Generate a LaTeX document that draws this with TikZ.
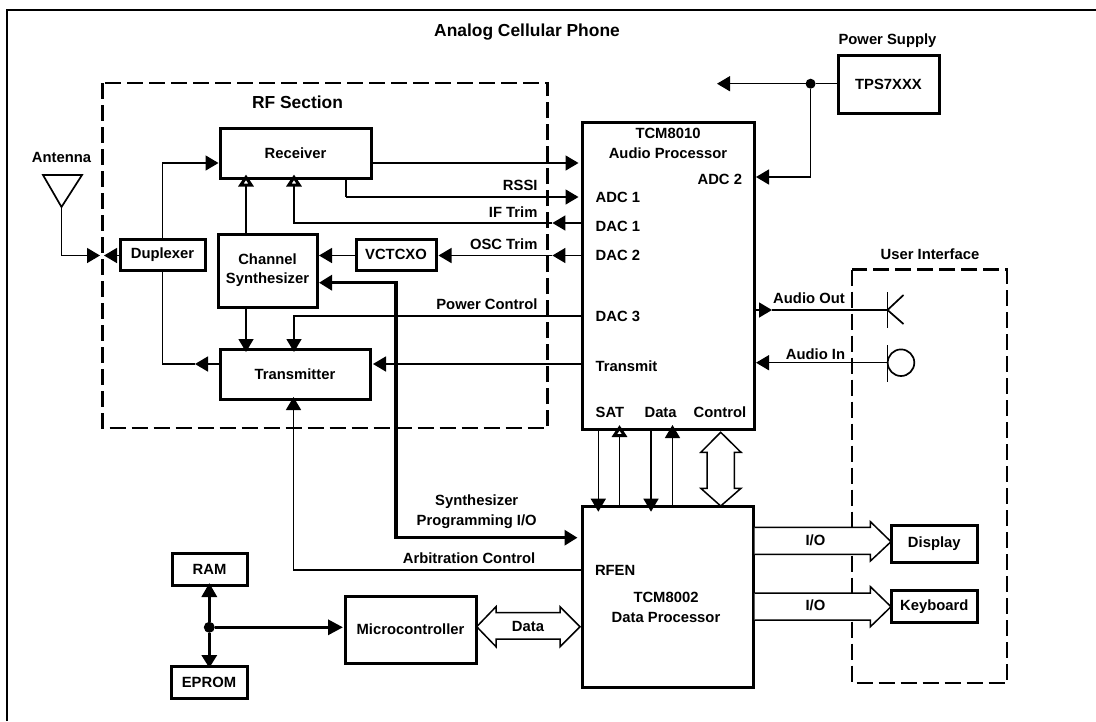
\documentclass[tikz,border=0pt]{standalone}
\usepackage{fontspec}
\setmainfont{Liberation Sans}
\usetikzlibrary{arrows.meta,calc}
\newcommand{\lbl}{\fontsize{14.8}{17}\selectfont\bfseries}
\newcommand{\lblbig}{\fontsize{17.4}{20}\selectfont\bfseries}
\tikzset{
  box/.style={draw=black,line width=3pt,fill=white,inner sep=0pt,outer sep=0pt,align=center,font=\lbl},
  lbl/.style={inner sep=0pt,outer sep=0pt,align=center,font=\lbl},
  wire/.style={line width=1.5pt,draw=black},
  arr/.style={wire,-{Triangle[length=13pt,width=15pt]}},
  harr/.style={wire,-{Triangle[length=12pt,width=15pt,fill=white,line width=3pt]}},
  heavy/.style={line width=3.2pt,draw=black,{Triangle[length=13pt,width=15pt]}-{Triangle[length=13pt,width=15pt]}},
  section/.style={draw=black,line width=2.2pt,dash pattern=on 16pt off 6pt},
  frame/.style={draw=black,line width=2.4pt},
  bus/.style={draw=black,line width=1.5pt,fill=white,line join=miter},
  dotn/.style={circle,fill=black,inner sep=0pt,outer sep=0pt},
}
\begin{document}
\begin{tikzpicture}[x=1pt,y=-1pt]
\useasboundingbox (0,0) rectangle (1096,721);
\fill[white] (0,0) rectangle (1096,721);
% page frame: top and left only
\coordinate (fa) at (7,721); \coordinate (fb) at (7,10); \coordinate (fc) at (1096,10);
\draw[frame] (fa) -- (fb) -- (fc);
\node[lbl,font=\lblbig] (title) at (527,32) {Analog Cellular Phone};

% dashed sections
\coordinate (rfa) at (102.5,83); \coordinate (rfb) at (547.5,428);
\draw[section] (rfa) rectangle (rfb);
\node[lbl,font=\lblbig] (rftext) at (297.5,102) {RF Section};
\coordinate (uia) at (852,269.5); \coordinate (uib) at (1007,683);
\draw[section] (uia) rectangle (uib);
\node[lbl] (uitext) at (930,254.5) {User Interface};

% blocks
\node[box,minimum width=151pt,minimum height=50pt] (recv) at (295.5,153) {Receiver};
\node[box,minimum width=85pt,minimum height=31pt] (dup) at (162.5,254.5) {Duplexer};
\node[box,minimum width=99pt,minimum height=73pt] (syn) at (267.5,270.5) {Channel\\[2pt]Synthesizer};
\node[box,minimum width=80pt,minimum height=31pt] (vc) at (396,254.5) {VCTCXO};
\node[box,minimum width=150pt,minimum height=50pt] (tx) at (295,374) {Transmitter};
\node[box,minimum width=171.5pt,minimum height=306.3pt] (audio) at (668.25,275.85) {};
\node[box,minimum width=101pt,minimum height=57.7pt] (tps) at (888.5,84.15) {TPS7XXX};
\node[box,minimum width=170.5pt,minimum height=181pt] (data) at (667.75,597.2) {};
\node[box,minimum width=75pt,minimum height=32pt] (ram) at (209.5,569) {RAM};
\node[box,minimum width=76pt,minimum height=32pt] (eprom) at (209,682) {EPROM};
\node[box,minimum width=131pt,minimum height=67pt] (mc) at (410.5,629.5) {Microcontroller};
\node[box,minimum width=85.4pt,minimum height=37pt] (disp) at (934.3,543.5) {Display};
\node[box,minimum width=85.4pt,minimum height=31.6pt] (key) at (934.3,606.5) {Keyboard};

% labels
\node[lbl] (pstext) at (887.5,41) {Power Supply};
\node[lbl] (anttext) at (61.5,157) {Antenna};
\node[lbl] (a1) at (668,133) {TCM8010};
\node[lbl] (a2) at (668,153) {Audio Processor};
\node[lbl,anchor=east] (adc2) at (742,179) {ADC 2};
\node[lbl,anchor=west] (adc1) at (595.7,197) {ADC 1};
\node[lbl,anchor=west] (dac1) at (595.7,226) {DAC 1};
\node[lbl,anchor=west] (dac2) at (595.7,255) {DAC 2};
\node[lbl,anchor=west] (dac3) at (595.7,316) {DAC 3};
\node[lbl,anchor=west] (trm) at (595.7,366) {Transmit};
\node[lbl,anchor=base west] (sat) at (595.7,417) {SAT};
\node[lbl,anchor=base] (datat) at (660.6,417) {Data};
\node[lbl,anchor=base] (ctrl) at (720,417) {Control};
\node[lbl,anchor=east] (rssi) at (537.5,185) {RSSI};
\node[lbl,anchor=east] (iftrim) at (537.5,212) {IF Trim};
\node[lbl,anchor=east] (osc) at (537.5,244) {OSC Trim};
\node[lbl,anchor=east] (pwr) at (537.5,304) {Power Control};
\node[lbl] (sp1) at (476.7,502) {Synthesizer};
\node[lbl] (sp2) at (476.7,522) {Programming I/O};
\node[lbl] (arb) at (469,558) {Arbitration Control};
\node[lbl,anchor=west] (rfen) at (595,570.7) {RFEN};
\node[lbl] (d1) at (666,597) {TCM8002};
\node[lbl] (d2) at (666,617) {Data Processor};
\node[lbl] (aout) at (809,298) {Audio Out};
\node[lbl] (ain) at (815.5,354) {Audio In};

% antenna
\coordinate (ant1) at (43,175); \coordinate (ant2) at (82,175); \coordinate (ant3) at (61.5,207);
\draw[line width=1.7pt,line join=miter] (ant1) -- (ant2) -- (ant3) -- cycle;
\coordinate (y255) at (0,255.5);
\coordinate (antin) at (100,255.5);
\draw[arr] (ant3) |- (antin);
\coordinate (dupin) at (104,255.5);
\draw[arr] (dup.west |- y255) -- (dupin);

% duplexer links
\coordinate (y163) at (0,163);
\draw[arr] (dup.north) |- ([xshift=-1.5pt]recv.west |- y163);
\coordinate (y364) at (0,364);
\coordinate (txtip) at (195,364);
\draw[wire] (dup.south) |- (txtip);
\draw[arr] (tx.west |- y364) -- (txtip);

% receiver to audio processor
\draw[arr] (recv.east |- y163) -- ([xshift=-4pt]audio.west |- y163);
\coordinate (rssib) at (346,197);
\draw[wire] (recv.south -| rssib) -- (rssib);
\draw[arr] (rssib) -- ([xshift=-4pt]audio.west |- rssib);

% trims
\coordinate (ifa) at (294,223);
\coordinate (ifm) at (552.4,223);
\draw[arr] (audio.west |- ifa) -- (ifm);
\draw[harr] (ifm) -- (ifa) -- ([yshift=3.5pt]recv.south -| ifa);
\coordinate (oscm) at (552.4,255.5);
\draw[arr] (audio.west |- oscm) -- (oscm);
\draw[arr] (oscm) -- ([xshift=2.5pt]vc.east |- oscm);
\draw[arr] (vc.west |- oscm) -- ([xshift=2pt]syn.east |- oscm);

% synthesizer to receiver / transmitter
\coordinate (cx) at (246,0);
\draw[harr] (syn.north -| cx) -- ([yshift=3.5pt]recv.south -| cx);
\draw[arr] (syn.south -| cx) -- ([yshift=-3pt]tx.north -| cx);

% power control, transmit
\coordinate (pwa) at (294,316);
\draw[arr] (audio.west |- pwa) -- (pwa) -- ([yshift=-3pt]tx.north -| pwa);
\draw[arr] (audio.west |- y364) -- ([xshift=3pt]tx.east |- y364);

% synthesizer programming bus
\coordinate (spa) at (396,282.7); \coordinate (spb) at (396,537.7);
\draw[heavy] ([xshift=2pt]syn.east |- spa) -- (spa) -- (spb) -- ([xshift=-5pt]data.west |- spb);

% arbitration
\coordinate (arbc) at (293.5,570);
\draw[arr] (data.west |- arbc) -- (arbc) -- ([yshift=2pt]tx.south -| arbc);

% memory bus
\node[dotn,minimum size=11pt] (mdot) at (209.3,627.3) {};
\draw[line width=3.2pt,-{Triangle[length=14pt,width=15pt]}] (mdot) -- ([yshift=2pt]ram.south -| mdot);
\draw[line width=3.2pt,-{Triangle[length=13pt,width=15pt]}] (mdot) -- ([yshift=-2pt]eprom.north -| mdot);
\draw[line width=3.2pt,-{Triangle[length=15pt,width=15pt]}] (mdot) -- ([xshift=-2pt]mc.west |- mdot);

% power supply
\node[dotn,minimum size=10pt] (pdot) at (810.6,83.7) {};
\coordinate (pleft) at (717,83.7);
\draw[wire] (tps.west |- pdot) -- (pdot);
\draw[arr] (pdot) -- (pleft);
\coordinate (adcy) at (0,177);
\draw[arr] (pdot) |- ([xshift=2pt]audio.east |- adcy);

% audio out / in devices
\coordinate (spk) at (887.5,310);
\coordinate (amid) at (772,310);
\draw[arr] (audio.east |- spk) -- (amid);
\draw[wire] (amid) -- (spk);
\coordinate (spk1) at (887.5,292); \coordinate (spk2) at (887.5,328);
\coordinate (spk3) at (903.5,295); \coordinate (spk4) at (903.5,324);
\draw[line width=1.7pt] (spk1) -- (spk2);
\draw[line width=1.7pt] (spk3) -- (spk) -- (spk4);
\coordinate (mic) at (887.5,362.7);
\coordinate (mic1) at (887.5,345); \coordinate (mic2) at (887.5,381.7);
\draw[line width=1.7pt] (mic1) -- (mic2);
\node[circle,draw=black,line width=1.7pt,minimum size=26.6pt,inner sep=0pt,outer sep=0pt,fill=none] (micc) at (901,362.7) {};
\draw[arr] (mic) -- ([xshift=2pt]audio.east |- mic);

% SAT / data lines between processors
\coordinate (v1) at (598.3,0); \coordinate (v2) at (619.5,0);
\coordinate (v3) at (651,0); \coordinate (v4) at (672.5,0);
\draw[arr] (audio.south -| v1) -- ([yshift=-5pt]data.north -| v1);
\draw[harr] (data.north -| v2) -- ([yshift=4pt]audio.south -| v2);
\draw[arr] (audio.south -| v3) -- ([yshift=-5pt]data.north -| v3);
\draw[arr] (data.north -| v4) -- ([yshift=4pt]audio.south -| v4);

% wide buses
\coordinate (ctla) at (720.7,432.3); \coordinate (ctlb) at (720.7,506);
\draw[bus] (ctla) -- (741,452.3) -- (734.4,452.3) -- (734.4,488.3) -- (741,488.3)
  -- (ctlb) -- (700.8,488.3) -- (707,488.3) -- (707,452.3) -- (700.8,452.3) -- cycle;
\coordinate (mda) at (476.7,626.7); \coordinate (mdb) at (580,626.7);
\draw[bus] (mda) -- (496,606.7) -- (496,612.7) -- (560,612.7) -- (560,606.7)
  -- (mdb) -- (560,646.7) -- (560,639) -- (496,639) -- (496,646.7) -- cycle;
\node[lbl] (mdt) at (528,626) {Data};
\coordinate (io1) at (754.5,527.3); \coordinate (io1b) at (754.5,554.3); \coordinate (io1t) at (891,541.7);
\fill[white] (io1) -- (870.4,527.3) -- (870.4,521.7) -- (io1t) -- (870.4,561) -- (870.4,554.3) -- (io1b) -- cycle;
\draw[line width=1.5pt,line join=miter] (io1) -- (870.4,527.3) -- (870.4,521.7) -- (io1t) -- (870.4,561) -- (870.4,554.3) -- (io1b);
\node[lbl] (io1l) at (815.4,540) {I/O};
\coordinate (io2) at (754.5,593); \coordinate (io2b) at (754.5,620); \coordinate (io2t) at (891,606.7);
\fill[white] (io2) -- (870.4,593) -- (870.4,586.7) -- (io2t) -- (870.4,626.7) -- (870.4,620) -- (io2b) -- cycle;
\draw[line width=1.5pt,line join=miter] (io2) -- (870.4,593) -- (870.4,586.7) -- (io2t) -- (870.4,626.7) -- (870.4,620) -- (io2b);
\node[lbl] (io2l) at (815.4,605.3) {I/O};
\end{tikzpicture}
\end{document}
